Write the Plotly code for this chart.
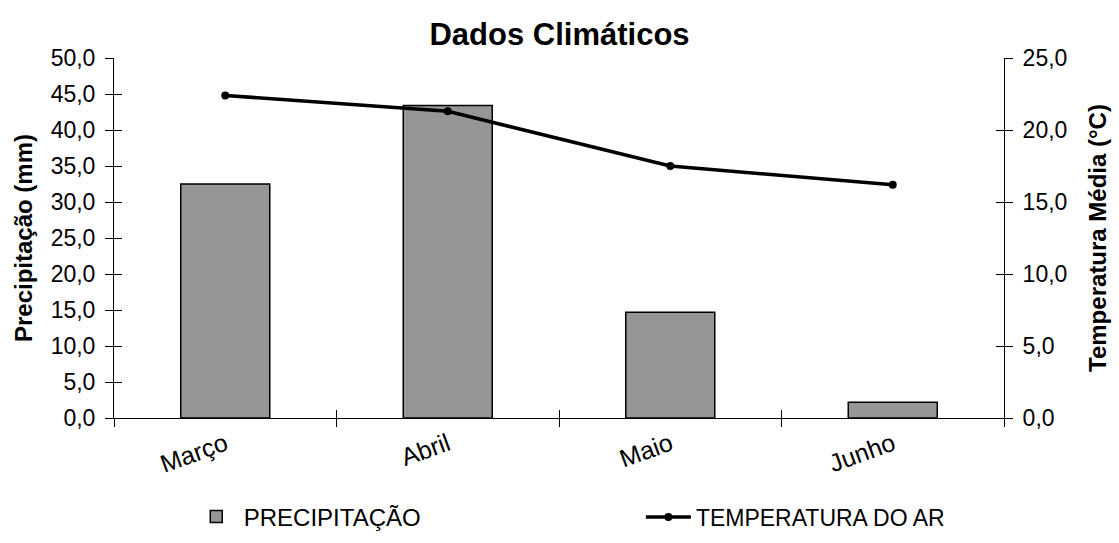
import plotly.graph_objects as go

# Monthly climate data
meses = ["Março", "Abril", "Maio", "Junho"]
precipitacao = [32.5, 43.4, 14.7, 2.2]          # mm
temperatura = [22.4, 21.3, 17.5, 16.2]          # °C

FONT = "Liberation Sans, Arial, sans-serif"

fig = go.Figure()

fig.add_trace(go.Bar(
    x=meses, y=precipitacao, name="PRECIPITAÇÃO",
    marker=dict(color="#969696", line=dict(color="black", width=1.5)),
    width=0.4, yaxis="y", legend="legend",
))

fig.add_trace(go.Scatter(
    x=meses, y=temperatura, name="TEMPERATURA DO AR",
    mode="lines+markers",
    line=dict(color="black", width=3.5),
    marker=dict(color="black", size=8),
    yaxis="y2", legend="legend2",
))

# empty helper traces so the overlay axes (inner tick halves) get drawn
for xa, ya in [("x2", "y"), ("x", "y3"), ("x", "y4")]:
    fig.add_trace(go.Scatter(x=[None], y=[None], xaxis=xa, yaxis=ya,
                             showlegend=False, hoverinfo="skip", mode="markers"))

tick_common = dict(ticklen=8, tickcolor="black", showgrid=False, zeroline=False)

fig.update_layout(
    width=1119, height=543,
    margin=dict(l=114, r=115, t=58, b=125),
    paper_bgcolor="white", plot_bgcolor="white",
    separators=",.",
    font=dict(family=FONT, size=22, color="black"),
    title=dict(text="<b>Dados Climáticos</b>", x=0.5, xanchor="center",
               y=0.937, yanchor="middle", font=dict(size=31)),
    showlegend=True,
    legend=dict(orientation="h", x=0.084, xanchor="left",
                yref="container", y=0.048, yanchor="middle",
                font=dict(size=24), itemwidth=45),
    legend2=dict(orientation="h", x=0.592, xanchor="left",
                 yref="container", y=0.048, yanchor="middle",
                 font=dict(size=23), itemwidth=45),
    xaxis=dict(
        showline=True, linecolor="black", linewidth=1,
        ticks="outside", tickson="boundaries", tickangle=-20,
        tickfont=dict(size=25), ticklabelstandoff=1,
        automargin=False, **tick_common,
    ),
    xaxis2=dict(
        overlaying="x", anchor="y", side="bottom", range=[-0.5, 3.5],
        tickvals=[-0.5, 0.5, 1.5, 2.5, 3.5], ticks="inside",
        showticklabels=False, showline=False, **tick_common,
    ),
    yaxis=dict(
        range=[0, 50], dtick=5, tickformat=".1f",
        showline=True, linecolor="black", linewidth=1,
        ticks="outside", automargin=False, ticklabelstandoff=5,
        title=dict(text="<b>Precipitação (mm)</b>", font=dict(size=24), standoff=11),
        tickfont=dict(size=23), **tick_common,
    ),
    yaxis2=dict(
        range=[0, 25], dtick=5, tickformat=".1f",
        overlaying="y", side="right",
        showline=True, linecolor="black", linewidth=1,
        ticks="outside", automargin=False, ticklabelstandoff=5,
        title=dict(text="<b>Temperatura Média (°C)</b>", font=dict(size=24), standoff=22),
        tickfont=dict(size=23), **tick_common,
    ),
    yaxis3=dict(
        overlaying="y", side="left", anchor="x", range=[0, 50], dtick=5,
        ticks="inside", showticklabels=False, showline=False, **tick_common,
    ),
    yaxis4=dict(
        overlaying="y", side="right", anchor="x", range=[0, 25], dtick=5,
        ticks="inside", showticklabels=False, showline=False, **tick_common,
    ),
)

fig.write_html("out.html")
